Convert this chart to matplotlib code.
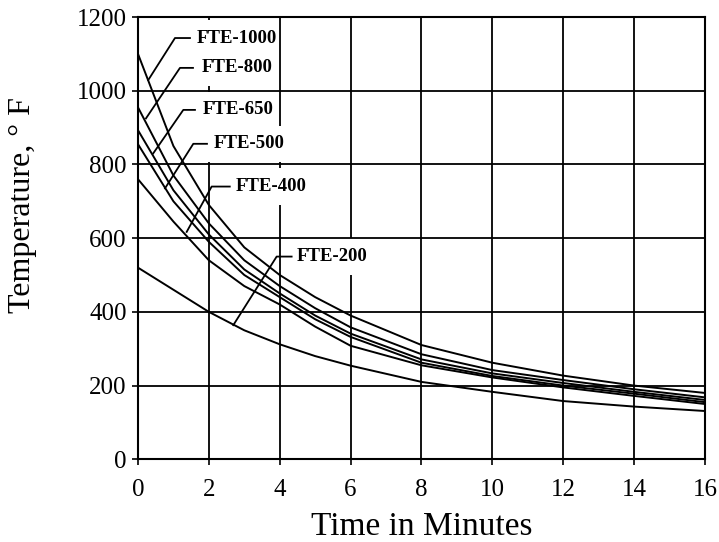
import matplotlib
matplotlib.use("Agg")
import matplotlib.pyplot as plt
from matplotlib.path import Path

plt.rcParams['font.family'] = ['Liberation Serif', 'DejaVu Serif']

time_min = [0, 1, 2, 3, 4, 5, 6, 8, 10, 12, 14, 16]
fte_1000 = [1100, 850, 690, 575, 500, 440, 390, 310, 262, 227, 200, 180]
fte_800 = [955, 770, 640, 540, 470, 410, 358, 285, 242, 215, 190, 168]
fte_650 = [893, 730, 610, 515, 450, 390, 341, 271, 233, 207, 183, 161]
fte_500 = [855, 700, 590, 500, 440, 380, 332, 262, 226, 200, 178, 155]
fte_400 = [760, 645, 540, 470, 420, 360, 308, 255, 222, 195, 172, 150]
fte_200 = [520, 460, 400, 350, 312, 280, 254, 210, 183, 158, 143, 131]

series = [fte_1000, fte_800, fte_650, fte_500, fte_400, fte_200]
names = ["FTE-1000", "FTE-800", "FTE-650", "FTE-500", "FTE-400", "FTE-200"]
label_x = [1.665, 1.80, 1.83, 2.125, 2.765, 4.479]
label_y = [1143, 1062, 948, 856, 740, 550]
leader_end_x = [1.467, 1.552, 1.608, 1.947, 2.59, 4.336]
leader_knee_x = [1.044, 1.185, 1.279, 1.561, 2.079, 3.913]
leader_tip_x = [0.29, 0.226, 0.43, 0.762, 1.374, 2.69]
leader_tip_y = [1029, 925, 830, 735, 617, 364]

xticks = list(range(0, 17, 2))
yticks = list(range(0, 1201, 200))


def tall_box(x0, y0, width, height, mutation_size):
    padl = 0.35 * mutation_size
    padr = 0.05 * mutation_size
    pady = 0.52 * mutation_size
    verts = [(x0 - padl, y0 - pady), (x0 + width + padr, y0 - pady),
             (x0 + width + padr, y0 + height + pady), (x0 - padl, y0 + height + pady),
             (x0 - padl, y0 - pady)]
    return Path(verts, closed=True)


fig = plt.figure(figsize=(7.19, 5.42), dpi=100)
ax = fig.add_axes([0.1919, 0.1526, 0.7886, 0.8160])

ax.set_xlim(0, 16)
ax.set_ylim(0, 1200)
ax.set_xticks(xticks)
ax.set_yticks(yticks)
ax.tick_params(direction='out', length=4, width=1.2, labelsize=18, colors='black')
ax.tick_params(axis='x', pad=10)
ax.tick_params(axis='y', pad=4)

# vertical grid below label boxes, horizontal grid above them
for x in xticks[1:-1]:
    ax.axvline(x, color='black', lw=1.3, zorder=1)
for y in yticks[1:-1]:
    ax.axhline(y, color='black', lw=1.3, zorder=5)

for vals in series:
    ax.plot(time_min, vals, color='black', lw=1.4, zorder=3)

for i, name in enumerate(names):
    ax.text(label_x[i], label_y[i], name, fontsize=13.5, fontweight='bold',
            ha='left', va='center', zorder=4,
            bbox=dict(boxstyle=tall_box, facecolor='white', edgecolor='none'))
    ax.plot([leader_end_x[i], leader_knee_x[i], leader_tip_x[i]],
            [label_y[i], label_y[i], leader_tip_y[i]],
            color='black', lw=1.3, zorder=6)

for s in ax.spines.values():
    s.set_linewidth(1.5)
    s.set_zorder(7)

ax.set_xlabel("Time in Minutes", fontsize=24)
ax.xaxis.set_label_coords(0.5, -0.118)
ax.set_ylabel("Temperature, \u00b0 F", fontsize=23)
ax.yaxis.set_label_coords(-0.178, 0.575)

fig.savefig("out.png", dpi=100)
